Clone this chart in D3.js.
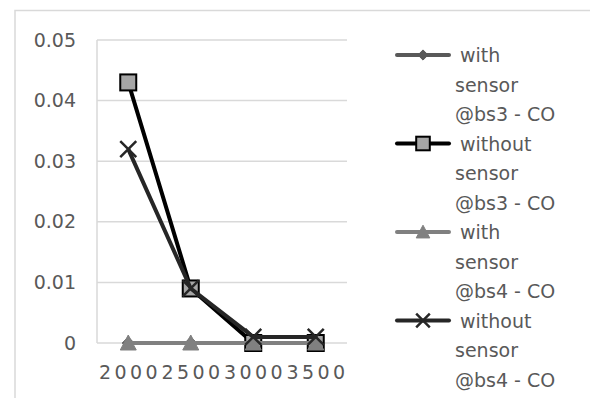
<!DOCTYPE html>
<html><head><meta charset="utf-8">
<script src="https://cdn.jsdelivr.net/npm/d3@7"></script>
<style>body{margin:0;background:#fff}svg{display:block}text{font-family:"DejaVu Sans",sans-serif;fill:#595959}</style>
</head><body><svg id="c" width="590" height="398"></svg>
<script>
const categories = ["2000","2500","3000","3500"];
const withBs3 = [0,0,0,0];
const withoutBs3 = [0.043,0.009,0,0];
const withBs4 = [0,0,0,0];
const withoutBs4 = [0.032,0.009,0.001,0.001];
const yTicks = [0,0.01,0.02,0.03,0.04,0.05];
const seriesNames = [["with","sensor","@bs3 - CO"],["without","sensor","@bs3 - CO"],["with","sensor","@bs4 - CO"],["without","sensor","@bs4 - CO"]];

const series = [
  {vals:withBs3, name:seriesNames[0], line:"#595959", marker:"diamond", fill:"#595959", stroke:"#595959"},
  {vals:withoutBs3, name:seriesNames[1], line:"#000000", marker:"square", fill:"#a6a6a6", stroke:"#000"},
  {vals:withBs4, name:seriesNames[2], line:"#808080", marker:"triangle", fill:"#808080", stroke:"#808080"},
  {vals:withoutBs4, name:seriesNames[3], line:"#262626", marker:"x", fill:"none", stroke:"#262626"}
];

const svg = d3.select("#c");
svg.append("path").attr("d","M15,398V10.5H590").attr("fill","none").attr("stroke","#d9d9d9").attr("stroke-width",1.5);

const x = d3.scaleBand().domain(categories).range([97,347]);
const y = d3.scaleLinear().domain([0,0.05]).range([343,40]);

svg.append("g").selectAll("line").data(yTicks).join("line")
  .attr("x1",97).attr("x2",347).attr("y1",d=>y(d)).attr("y2",d=>y(d))
  .attr("stroke","#d9d9d9").attr("stroke-width",1.5);
svg.append("line").attr("x1",97).attr("x2",97).attr("y1",y(0.05)).attr("y2",y(0)).attr("stroke","#d9d9d9").attr("stroke-width",1.5);

const yAxis = d3.axisLeft(y).tickValues(yTicks).tickSize(0).tickPadding(0).tickFormat(d=>d===0?"0":d3.format(".2f")(d));
const gy = svg.append("g").attr("transform","translate(76,0)").call(yAxis);
gy.select(".domain").remove();
gy.selectAll("text").attr("font-size",19).attr("font-family",null).style("fill","#595959");

const xAxis = d3.axisBottom(x).tickSize(0).tickPadding(0);
const gx = svg.append("g").attr("transform","translate(0,365)").call(xAxis);
gx.select(".domain").remove();
gx.selectAll("text").attr("font-size",19).attr("font-family",null).style("fill","#595959")
  .attr("letter-spacing","3.4px").attr("dx","1.7px");

function marker(g, type, cx, cy, s, sc){
  sc = sc || 1;
  if(type==="diamond"){
    const r = 6*sc;
    g.append("path").attr("d",`M${cx},${cy-r}L${cx+r},${cy}L${cx},${cy+r}L${cx-r},${cy}Z`).attr("fill",s.fill).attr("stroke",s.stroke).attr("stroke-width",1);
  } else if(type==="square"){
    const h = 8*sc;
    g.append("rect").attr("x",cx-h).attr("y",cy-h).attr("width",2*h).attr("height",2*h).attr("fill",s.fill).attr("stroke",s.stroke).attr("stroke-width",2);
  } else if(type==="triangle"){
    g.append("path").attr("d",`M${cx},${cy-8*sc}L${cx+8*sc},${cy+7*sc}L${cx-8*sc},${cy+7*sc}Z`).attr("fill",s.fill).attr("stroke",s.stroke).attr("stroke-width",1);
  } else if(type==="x"){
    const h = 8*sc;
    g.append("path").attr("d",`M${cx-h},${cy-h}L${cx+h},${cy+h}M${cx+h},${cy-h}L${cx-h},${cy+h}`).attr("fill","none").attr("stroke",s.stroke).attr("stroke-width",2.5);
  }
}

const line = d3.line().x((d,i)=>x(categories[i])+x.bandwidth()/2).y(d=>y(d));
series.forEach(s=>{
  const g = svg.append("g");
  g.append("path").attr("d",line(s.vals)).attr("fill","none").attr("stroke",s.line).attr("stroke-width",4).attr("stroke-linejoin","round");
  s.vals.forEach((v,i)=>marker(g,s.marker,x(categories[i])+x.bandwidth()/2,y(v),s));
});

const lg = svg.append("g");
series.forEach((s,k)=>{
  const cy = 55 + k*88.5;
  const g = lg.append("g");
  g.append("line").attr("x1",397).attr("x2",449).attr("y1",cy).attr("y2",cy).attr("stroke",s.line).attr("stroke-width",4).attr("stroke-linecap","round");
  marker(g,s.marker,423,cy,s,0.85);
  s.name.forEach((t,j)=>{
    g.append("text").attr("x", j===0?460:455).attr("y", cy+7+j*29.5).attr("font-size",19).text(t);
  });
});
</script></body></html>
